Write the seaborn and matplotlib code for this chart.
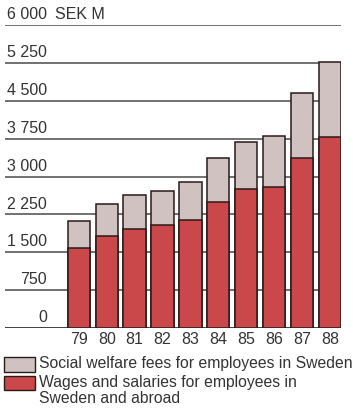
import matplotlib
matplotlib.use("Agg")
import matplotlib.pyplot as plt
import seaborn as sns
import pandas as pd
from matplotlib.patches import Rectangle

years = ["79", "80", "81", "82", "83", "84", "85", "86", "87", "88"]
wages = [1590, 1820, 1955, 2035, 2140, 2490, 2750, 2800, 3370, 3790]
total = [2125, 2460, 2640, 2720, 2895, 3360, 3675, 3800, 4645, 5260]
yticks = [0, 750, 1500, 2250, 3000, 3750, 4500, 5250, 6000]
ytick_labels = ["0", "750", "1 500", "2 250", "3 000", "3 750", "4 500", "5 250", "6 000"]
unit_label = "SEK M"
legend_labels = ["Social welfare fees for employees in Sweden",
                 "Wages and salaries for employees in\nSweden and abroad"]

RED = "#ca4849"
GREY = "#cfc2c0"
EDGE = "#2a1a1a"
TXT = "#333333"

sns.set_theme(style="white")
plt.rcParams["font.family"] = ["Liberation Sans", "DejaVu Sans"]

df = pd.DataFrame({"year": years, "wages": wages, "total": total})

W, H = 353, 412
fig = plt.figure(figsize=(W / 100, H / 100), dpi=100)
ax_left_px, ax_right_px = 5, 340.7
ax_top_px, ax_bot_px = 25, 328
ax = fig.add_axes([ax_left_px / W, (H - ax_bot_px) / H,
                   (ax_right_px - ax_left_px) / W, (ax_bot_px - ax_top_px) / H])

for y in yticks:
    ax.axhline(y, color="#4a4a4a" if y else "#333333", lw=1.1 if y else 1.3, zorder=0)

sns.barplot(data=df, x="year", y="total", color=GREY, edgecolor=EDGE,
            linewidth=1.1, width=0.8, saturation=1, ax=ax, zorder=2)
sns.barplot(data=df, x="year", y="wages", color=RED, edgecolor=EDGE,
            linewidth=1.1, width=0.8, saturation=1, ax=ax, zorder=3)

px_per_unit = 27.9
first_px = 78.8
ax.set_xlim(-(first_px - ax_left_px) / px_per_unit,
            9 + (ax_right_px - (first_px + 9 * px_per_unit)) / px_per_unit)
ax.set_ylim(0, 6000)
ax.set_ylabel("")
ax.set_xlabel("")
ax.set_yticks([])
ax.tick_params(axis="x", length=0, pad=3, labelsize=11.5, labelcolor=TXT)
for s in ax.spines.values():
    s.set_visible(False)
ax.patch.set_alpha(0)

lab_x = (47 - ax_left_px) / (ax_right_px - ax_left_px)
for y, lab in zip(yticks, ytick_labels):
    ax.annotate(lab, xy=(lab_x, y), xycoords=ax.get_yaxis_transform(),
                xytext=(0, 2), textcoords="offset points",
                ha="right", va="bottom", fontsize=11.5, color=TXT)
ax.annotate(unit_label, xy=(lab_x, yticks[-1]), xycoords=ax.get_yaxis_transform(),
            xytext=(6, 2), textcoords="offset points",
            ha="left", va="bottom", fontsize=11.5, color=TXT)

# legend
for (y0, y1), col, lab in [((357, 372), GREY, legend_labels[0]),
                           ((376, 390), RED, legend_labels[1])]:
    fig.patches.append(Rectangle((4 / W, (H - y1) / H), 31 / W, (y1 - y0) / H,
                                 transform=fig.transFigure, facecolor=col,
                                 edgecolor=EDGE, linewidth=1.0))
    fig.text(39 / W, (H - y0 + 1) / H, lab, ha="left", va="top",
             fontsize=11.3, color=TXT, linespacing=1.1)

fig.savefig("out.png", dpi=100)
